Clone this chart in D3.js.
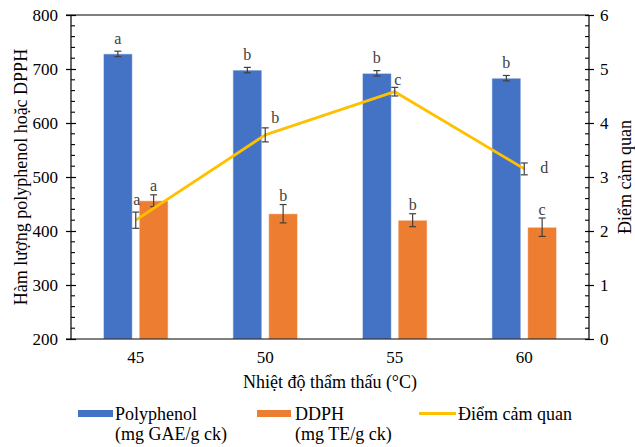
<!DOCTYPE html>
<html>
<head>
<meta charset="utf-8">
<script src="https://cdn.jsdelivr.net/npm/d3@7"></script>
<style>
  body { margin: 0; background: #fff; }
  svg { display: block; font-family: "Liberation Serif", "Times New Roman", serif; }
</style>
</head>
<body>
<svg id="chart" width="635" height="447"></svg>
<script>
// ---- data ----
const categories = ["45", "50", "55", "60"];
const polyphenol = [728, 698, 692, 683];
const polyphenolErr = [5, 5, 5, 5];
const dpph = [456, 432, 420, 407];
const dpphErr = [11, 17, 12, 17];
const sensory = [2.2, 3.78, 4.58, 3.15];
const sensoryErr = [0.15, 0.13, 0.08, 0.11];
const polyLetters = ["a", "b", "b", "b"];
const dpphLetters = ["a", "b", "b", "c"];
const sensoryLetters = ["a", "b", "c", "d"];
const leftTicks = [200, 300, 400, 500, 600, 700, 800];
const rightTicks = [0, 1, 2, 3, 4, 5, 6];

// ---- layout / style ----
const svg = d3.select("#chart");
const L = 71, R = 589, T = 15, B = 339;
const blue = "#4472C4", orange = "#ED7D31", gold = "#FFC000", errCol = "#404040";
// per-label nudges for sensory letters (dx, dy) relative to point
const sensLabelNudge = [[1, -13], [10, -10], [3, -8], [20, 4]];

const x0 = d3.scaleBand().domain(categories).range([L, R]).paddingInner(0.5).paddingOuter(0.25);
const x1 = d3.scaleBand().domain(["poly", "dpph"]).range([0, x0.bandwidth()]).paddingInner(0.19);
const yL = d3.scaleLinear().domain([200, 800]).range([B, T]);
const yR = d3.scaleLinear().domain([0, 6]).range([B, T]);

// bars
const barData = [];
categories.forEach((c, i) => {
  barData.push({c, key: "poly", v: polyphenol[i], e: polyphenolErr[i], lab: polyLetters[i], col: blue, off: 13});
  barData.push({c, key: "dpph", v: dpph[i], e: dpphErr[i], lab: dpphLetters[i], col: orange, off: 9});
});

svg.append("g").selectAll("rect").data(barData).join("rect")
  .attr("x", d => x0(d.c) + x1(d.key))
  .attr("y", d => yL(d.v))
  .attr("width", x1.bandwidth())
  .attr("height", d => yL(200) - yL(d.v))
  .attr("fill", d => d.col)
  .attr("stroke", "#ffffff").attr("stroke-opacity", 0.6).attr("stroke-width", 1);

function errBar(g, cx, yTop, yBot) {
  g.append("line").attr("x1", cx).attr("x2", cx).attr("y1", yTop).attr("y2", yBot);
  g.append("line").attr("x1", cx - 3.5).attr("x2", cx + 3.5).attr("y1", yTop).attr("y2", yTop);
  g.append("line").attr("x1", cx - 3.5).attr("x2", cx + 3.5).attr("y1", yBot).attr("y2", yBot);
}

const errG = svg.append("g").attr("stroke", errCol).attr("stroke-width", 1.2);
barData.forEach(d => {
  const cx = x0(d.c) + x1(d.key) + x1.bandwidth() / 2;
  errBar(errG, cx, yL(d.v + d.e), yL(d.v - d.e));
});

// bar letters
svg.append("g").selectAll("text").data(barData).join("text")
  .attr("x", d => x0(d.c) + x1(d.key) + x1.bandwidth() / 2)
  .attr("y", d => yL(d.v + d.e) - d.off)
  .attr("dy", "0.35em")
  .attr("text-anchor", "middle")
  .attr("font-size", 16).attr("fill", "#404040")
  .text(d => d.lab);

// sensory line
const cx = c => x0(c) + x0.bandwidth() / 2;
const line = d3.line().x((d, i) => cx(categories[i])).y(d => yR(d));
svg.append("path").datum(sensory).attr("d", line)
  .attr("fill", "none").attr("stroke", gold).attr("stroke-width", 2.8).attr("stroke-linejoin", "round");

const sErrG = svg.append("g").attr("stroke", errCol).attr("stroke-width", 1.2);
sensory.forEach((v, i) => errBar(sErrG, cx(categories[i]), yR(v + sensoryErr[i]), yR(v - sensoryErr[i])));

svg.append("g").selectAll("text").data(sensory).join("text")
  .attr("x", (d, i) => cx(categories[i]) + sensLabelNudge[i][0])
  .attr("y", (d, i) => yR(d + sensoryErr[i]) + sensLabelNudge[i][1])
  .attr("dy", "0.35em")
  .attr("text-anchor", "middle")
  .attr("font-size", 16).attr("fill", "#404040")
  .text((d, i) => sensoryLetters[i]);

// axes frame
const ax = svg.append("g").attr("stroke", "#000").attr("stroke-width", 1.2).attr("fill", "none");
ax.append("line").attr("x1", L - 5).attr("x2", R).attr("y1", T).attr("y2", T);
ax.append("line").attr("x1", L - 5).attr("x2", R).attr("y1", B).attr("y2", B);
ax.append("line").attr("x1", L).attr("x2", L).attr("y1", T).attr("y2", B);
ax.append("line").attr("x1", R).attr("x2", R).attr("y1", T).attr("y2", B);

// left ticks
const leftAxis = d3.axisLeft(yL).tickValues(leftTicks).tickSize(5).tickPadding(8).tickFormat(d3.format("d"));
const gL = svg.append("g").attr("transform", `translate(${L},0)`).call(leftAxis);
gL.select(".domain").remove();
gL.selectAll(".tick line").attr("x2", -5).attr("x1", 5).attr("stroke", "#000").attr("stroke-width", 1.2);
gL.selectAll(".tick text").attr("font-size", 17).attr("font-family", "Liberation Serif").attr("fill", "#000");
// left minor ticks (inside)
const minorL = d3.range(200, 800, 20).filter(v => v % 100 !== 0);
svg.append("g").selectAll("line").data(minorL).join("line")
  .attr("x1", L).attr("x2", L + 4).attr("y1", d => yL(d)).attr("y2", d => yL(d))
  .attr("stroke", "#000").attr("stroke-width", 1.1);

// right ticks
const rightAxis = d3.axisRight(yR).tickValues(rightTicks).tickSize(5).tickPadding(6).tickFormat(d3.format("d"));
const gR = svg.append("g").attr("transform", `translate(${R},0)`).call(rightAxis);
gR.select(".domain").remove();
gR.selectAll(".tick line").attr("x1", -4).attr("x2", 5).attr("stroke", "#000").attr("stroke-width", 1.2);
gR.selectAll(".tick text").attr("font-size", 17).attr("font-family", "Liberation Serif").attr("fill", "#000");
const minorR = d3.range(0, 30).map(i => i / 5).filter((v, i) => i % 5 !== 0);
svg.append("g").selectAll("line").data(minorR).join("line")
  .attr("x1", R - 4).attr("x2", R).attr("y1", d => yR(d)).attr("y2", d => yR(d))
  .attr("stroke", "#000").attr("stroke-width", 1.1);

// x labels
const bottomAxis = d3.axisBottom(x0).tickSize(0).tickPadding(12);
const gB = svg.append("g").attr("transform", `translate(0,${B})`).call(bottomAxis);
gB.select(".domain").remove();
gB.selectAll(".tick text").attr("font-size", 17).attr("font-family", "Liberation Serif").attr("fill", "#000");

// titles
svg.append("text").attr("x", (L + R) / 2).attr("y", 388).attr("text-anchor", "middle")
  .attr("font-size", 18).text("Nhiệt độ thẩm thấu (°C)");
svg.append("text").attr("transform", `translate(27,${(T + B) / 2}) rotate(-90)`).attr("text-anchor", "middle")
  .attr("font-size", 18).text("Hàm lượng polyphenol hoặc DPPH");
svg.append("text").attr("transform", `translate(631,${(T + B) / 2}) rotate(-90)`).attr("text-anchor", "middle")
  .attr("font-size", 18).text("Điểm cảm quan");

// legend
const lg = svg.append("g").attr("font-size", 18);
lg.append("rect").attr("x", 78).attr("y", 410).attr("width", 35).attr("height", 7).attr("fill", blue);
lg.append("text").attr("x", 115).attr("y", 420).text("Polyphenol");
lg.append("text").attr("x", 115).attr("y", 440).text("(mg GAE/g ck)");
lg.append("rect").attr("x", 257).attr("y", 410).attr("width", 34).attr("height", 7).attr("fill", orange);
lg.append("text").attr("x", 295).attr("y", 420).text("DDPH");
lg.append("text").attr("x", 295).attr("y", 440).text("(mg TE/g ck)");
lg.append("line").attr("x1", 419).attr("x2", 456).attr("y1", 413.5).attr("y2", 413.5)
  .attr("stroke", gold).attr("stroke-width", 3);
lg.append("text").attr("x", 458).attr("y", 420).text("Điểm cảm quan");
</script>
</body>
</html>
